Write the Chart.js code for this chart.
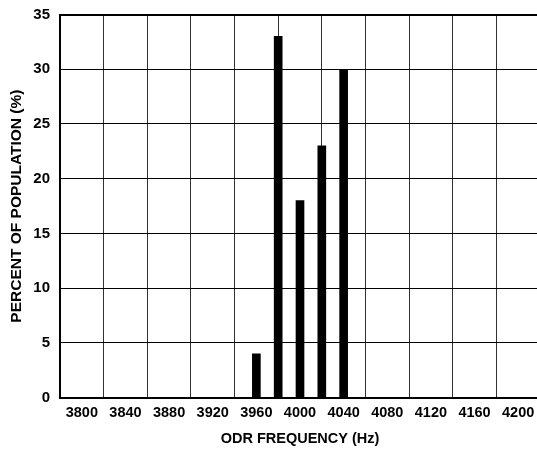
<!DOCTYPE html>
<html>
<head>
<meta charset="utf-8">
<script src="https://cdn.jsdelivr.net/npm/chart.js@4/dist/chart.umd.min.js"></script>
<style>
  html, body { margin: 0; padding: 0; background: #fff; overflow: hidden; }
  #wrap { width: 541px; height: 449px; position: relative; }
</style>
</head>
<body>
<div id="wrap"><canvas id="chart"></canvas></div>
<script>
// ODR frequency histogram
const frequencies = [3960, 3980, 4000, 4020, 4040];
const percents = [4, 33, 18, 23, 30];
const tickLabels = [3800, 3840, 3880, 3920, 3960, 4000, 4040, 4080, 4120, 4160, 4200];
const gridLines = [3780, 3820, 3860, 3900, 3940, 3980, 4020, 4060, 4100, 4140, 4180, 4220];
const yTicks = [0, 5, 10, 15, 20, 25, 30, 35];

const family = "'Liberation Sans', Arial, sans-serif";

const chartCanvas = document.getElementById("chart").getContext("2d");

new Chart(chartCanvas, {
  type: "bar",
  data: {
    datasets: [
      {
        data: frequencies.map((f, i) => ({ x: f, y: percents[i] })),
        backgroundColor: "#000",
        barThickness: 8,
      },
    ],
  },
  options: {
    responsive: true,
    maintainAspectRatio: false,
    animation: false,
    layout: { padding: { top: 0, right: 1, left: 0, bottom: 0 } },
    plugins: { legend: { display: false }, tooltip: { enabled: false } },
    scales: {
      x: {
        type: "linear",
        offset: false,
        min: gridLines[0],
        max: gridLines[gridLines.length - 1],
        afterBuildTicks: (scale) => {
          scale.ticks = gridLines.map((v) => ({ value: v }));
        },
        ticks: { display: false },
        grid: { offset: false, color: "#333", lineWidth: 1, drawTicks: false },
        border: { color: "#000", width: 2 },
      },
      x2: {
        type: "linear",
        position: "bottom",
        weight: 1,
        offset: false,
        min: gridLines[0],
        max: gridLines[gridLines.length - 1],
        afterBuildTicks: (scale) => {
          scale.ticks = tickLabels.map((v) => ({ value: v }));
        },
        ticks: {
          color: "#000",
          font: { family: family, weight: "bold", size: 14.5 },
          padding: -1,
          maxRotation: 0,
          autoSkip: false,
          callback: (v) => String(v),
        },
        grid: { display: false, offset: false },
        border: { display: false },
        title: {
          display: true,
          text: "ODR FREQUENCY (Hz)",
          color: "#000",
          font: { family: family, weight: "bold", size: 14.5 },
          padding: { top: 9.5, bottom: 1 },
        },
      },
      y: {
        min: 0,
        max: 35,
        afterBuildTicks: (scale) => {
          scale.ticks = yTicks.map((v) => ({ value: v }));
        },
        afterFit: (scale) => {
          scale.width = 60;
        },
        ticks: {
          color: "#000",
          font: { family: family, weight: "bold", size: 15, lineHeight: 0.6 },
          padding: 10,
        },
        grid: {
          color: "#000",
          lineWidth: (c) => (c.tick && c.tick.value === 35 ? 2 : 1),
          drawTicks: false,
        },
        border: { color: "#000", width: 2 },
        title: {
          display: true,
          text: "PERCENT OF POPULATION (%)",
          color: "#000",
          font: { family: family, weight: "bold", size: 15.5 },
          padding: { top: 7, bottom: 0 },
        },
      },
    },
  },
});
</script>
</body>
</html>
